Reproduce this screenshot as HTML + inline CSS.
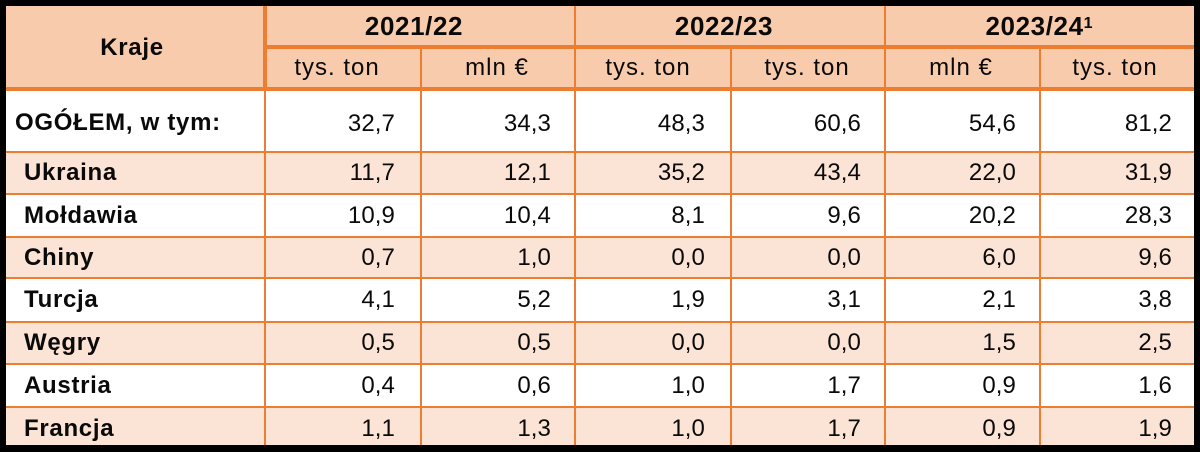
<!DOCTYPE html>
<html>
<head>
<meta charset="utf-8">
<style>
  html, body { margin:0; padding:0; }
  body { width:1200px; height:452px; background:#000; position:relative; overflow:hidden;
         font-family:"Liberation Sans", Arial, sans-serif; color:#0a0a0a; }
  #wrap { position:absolute; left:6px; top:6px; width:1188px; height:439px; overflow:hidden; background:#fff; }
  .f { position:absolute; }
  .h { position:absolute; background:#ED7D31; }
  .t { position:absolute; display:flex; align-items:center; white-space:nowrap; }
  .c { justify-content:center; }
  .r { justify-content:flex-end; }
  .l { justify-content:flex-start; }
  .num { font-size:24px; letter-spacing:0.1px; }
  .sub { font-size:24px; letter-spacing:1px; }
  .lab { font-size:24px; font-weight:bold; letter-spacing:0.7px; }
  .yr { font-size:26px; font-weight:bold; letter-spacing:0.6px; }
  sup { font-size:16px; vertical-align:top; position:relative; top:-3px; letter-spacing:0; }
</style>
</head>
<body>
<div id="wrap">
  <!-- fills -->
  <div class="f" style="left:0;top:0;width:1188px;height:83px;background:#F8CBAD"></div>
  <div class="f" style="left:0;top:146px;width:1188px;height:42px;background:#FBE4D5"></div>
  <div class="f" style="left:0;top:230px;width:1188px;height:42px;background:#FBE4D5"></div>
  <div class="f" style="left:0;top:315px;width:1188px;height:42px;background:#FBE4D5"></div>
  <div class="f" style="left:0;top:400px;width:1188px;height:45px;background:#FBE4D5"></div>

  <!-- horizontal lines -->
  <div class="h" style="left:259px;top:39px;width:929px;height:4px"></div>
  <div class="h" style="left:0;top:81px;width:1188px;height:4px"></div>
  <div class="h" style="left:0;top:145px;width:1188px;height:2px"></div>
  <div class="h" style="left:0;top:187px;width:1188px;height:2px"></div>
  <div class="h" style="left:0;top:230px;width:1188px;height:2px"></div>
  <div class="h" style="left:0;top:271px;width:1188px;height:2px"></div>
  <div class="h" style="left:0;top:315px;width:1188px;height:2px"></div>
  <div class="h" style="left:0;top:357px;width:1188px;height:2px"></div>
  <div class="h" style="left:0;top:400px;width:1188px;height:2px"></div>

  <!-- vertical lines -->
  <div class="h" style="left:257px;top:0;width:4px;height:85px"></div>
  <div class="h" style="left:258px;top:85px;width:2px;height:360px"></div>
  <div class="h" style="left:568px;top:0;width:2px;height:445px"></div>
  <div class="h" style="left:878px;top:0;width:2px;height:445px"></div>
  <div class="h" style="left:414px;top:41px;width:2px;height:404px"></div>
  <div class="h" style="left:724px;top:41px;width:2px;height:404px"></div>
  <div class="h" style="left:1033px;top:41px;width:2px;height:404px"></div>

  <!-- header texts -->
  <div class="t c lab" style="left:0;top:0;width:252px;height:83px">Kraje</div>
  <div class="t c yr" style="left:259px;top:0;width:298px;height:41px">2021/22</div>
  <div class="t c yr" style="left:569px;top:0;width:298px;height:41px">2022/23</div>
  <div class="t c yr" style="left:879px;top:0;width:308px;height:41px">2023/24<sup>1</sup></div>

  <div class="t c sub" style="left:259px;top:42px;width:144px;height:40px">tys. ton</div>
  <div class="t c sub" style="left:415px;top:42px;width:152px;height:40px">mln €</div>
  <div class="t c sub" style="left:569px;top:42px;width:146px;height:40px">tys. ton</div>
  <div class="t c sub" style="left:725px;top:42px;width:152px;height:40px">tys. ton</div>
  <div class="t c sub" style="left:879px;top:42px;width:152px;height:40px">mln €</div>
  <div class="t c sub" style="left:1034px;top:42px;width:150px;height:40px">tys. ton</div>

  <!-- OGÓŁEM row -->
  <div class="t l lab" style="left:9px;top:86px;width:240px;height:62px">OGÓŁEM, w tym:</div>
  <div class="t r num" style="left:259px;top:87px;width:130px;height:62px">32,7</div>
  <div class="t r num" style="left:415px;top:87px;width:130px;height:62px">34,3</div>
  <div class="t r num" style="left:569px;top:87px;width:130px;height:62px">48,3</div>
  <div class="t r num" style="left:725px;top:87px;width:130px;height:62px">60,6</div>
  <div class="t r num" style="left:879px;top:87px;width:131px;height:62px">54,6</div>
  <div class="t r num" style="left:1034px;top:87px;width:132px;height:62px">81,2</div>

  <!-- Ukraina -->
  <div class="t l lab" style="left:18px;top:146px;width:240px;height:42px">Ukraina</div>
  <div class="t r num" style="left:259px;top:146px;width:130px;height:42px">11,7</div>
  <div class="t r num" style="left:415px;top:146px;width:130px;height:42px">12,1</div>
  <div class="t r num" style="left:569px;top:146px;width:130px;height:42px">35,2</div>
  <div class="t r num" style="left:725px;top:146px;width:130px;height:42px">43,4</div>
  <div class="t r num" style="left:879px;top:146px;width:131px;height:42px">22,0</div>
  <div class="t r num" style="left:1034px;top:146px;width:132px;height:42px">31,9</div>

  <!-- Mołdawia -->
  <div class="t l lab" style="left:18px;top:188.5px;width:240px;height:42px">Mołdawia</div>
  <div class="t r num" style="left:259px;top:188.5px;width:130px;height:42px">10,9</div>
  <div class="t r num" style="left:415px;top:188.5px;width:130px;height:42px">10,4</div>
  <div class="t r num" style="left:569px;top:188.5px;width:130px;height:42px">8,1</div>
  <div class="t r num" style="left:725px;top:188.5px;width:130px;height:42px">9,6</div>
  <div class="t r num" style="left:879px;top:188.5px;width:131px;height:42px">20,2</div>
  <div class="t r num" style="left:1034px;top:188.5px;width:132px;height:42px">28,3</div>

  <!-- Chiny -->
  <div class="t l lab" style="left:18px;top:231px;width:240px;height:42px">Chiny</div>
  <div class="t r num" style="left:259px;top:231px;width:130px;height:42px">0,7</div>
  <div class="t r num" style="left:415px;top:231px;width:130px;height:42px">1,0</div>
  <div class="t r num" style="left:569px;top:231px;width:130px;height:42px">0,0</div>
  <div class="t r num" style="left:725px;top:231px;width:130px;height:42px">0,0</div>
  <div class="t r num" style="left:879px;top:231px;width:131px;height:42px">6,0</div>
  <div class="t r num" style="left:1034px;top:231px;width:132px;height:42px">9,6</div>

  <!-- Turcja -->
  <div class="t l lab" style="left:18px;top:273px;width:240px;height:42px">Turcja</div>
  <div class="t r num" style="left:259px;top:273px;width:130px;height:42px">4,1</div>
  <div class="t r num" style="left:415px;top:273px;width:130px;height:42px">5,2</div>
  <div class="t r num" style="left:569px;top:273px;width:130px;height:42px">1,9</div>
  <div class="t r num" style="left:725px;top:273px;width:130px;height:42px">3,1</div>
  <div class="t r num" style="left:879px;top:273px;width:131px;height:42px">2,1</div>
  <div class="t r num" style="left:1034px;top:273px;width:132px;height:42px">3,8</div>

  <!-- Węgry -->
  <div class="t l lab" style="left:18px;top:316px;width:240px;height:42px">Węgry</div>
  <div class="t r num" style="left:259px;top:316px;width:130px;height:42px">0,5</div>
  <div class="t r num" style="left:415px;top:316px;width:130px;height:42px">0,5</div>
  <div class="t r num" style="left:569px;top:316px;width:130px;height:42px">0,0</div>
  <div class="t r num" style="left:725px;top:316px;width:130px;height:42px">0,0</div>
  <div class="t r num" style="left:879px;top:316px;width:131px;height:42px">1,5</div>
  <div class="t r num" style="left:1034px;top:316px;width:132px;height:42px">2,5</div>

  <!-- Austria -->
  <div class="t l lab" style="left:18px;top:358.5px;width:240px;height:42px">Austria</div>
  <div class="t r num" style="left:259px;top:358.5px;width:130px;height:42px">0,4</div>
  <div class="t r num" style="left:415px;top:358.5px;width:130px;height:42px">0,6</div>
  <div class="t r num" style="left:569px;top:358.5px;width:130px;height:42px">1,0</div>
  <div class="t r num" style="left:725px;top:358.5px;width:130px;height:42px">1,7</div>
  <div class="t r num" style="left:879px;top:358.5px;width:131px;height:42px">0,9</div>
  <div class="t r num" style="left:1034px;top:358.5px;width:132px;height:42px">1,6</div>

  <!-- Francja -->
  <div class="t l lab" style="left:18px;top:401.5px;width:240px;height:42px">Francja</div>
  <div class="t r num" style="left:259px;top:401.5px;width:130px;height:42px">1,1</div>
  <div class="t r num" style="left:415px;top:401.5px;width:130px;height:42px">1,3</div>
  <div class="t r num" style="left:569px;top:401.5px;width:130px;height:42px">1,0</div>
  <div class="t r num" style="left:725px;top:401.5px;width:130px;height:42px">1,7</div>
  <div class="t r num" style="left:879px;top:401.5px;width:131px;height:42px">0,9</div>
  <div class="t r num" style="left:1034px;top:401.5px;width:132px;height:42px">1,9</div>
</div>
</body>
</html>
